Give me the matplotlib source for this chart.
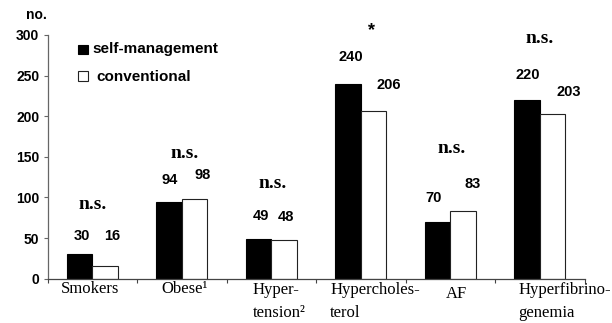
import matplotlib
matplotlib.use('Agg')
from matplotlib import pyplot as plt
from matplotlib.patches import Rectangle
import numpy as np

# risk factor counts per group
categories = ['Smokers', 'Obese¹', 'Hyper-\ntension²', 'Hypercholes-\nterol', 'AF',
              'Hyperfibrino-\ngenemia']
self_mgmt = [30, 94, 49, 240, 70, 220]
conventional = [16, 98, 48, 206, 83, 203]
signif = ['n.s.', 'n.s.', 'n.s.', '*', 'n.s.', 'n.s.']
yticks = [0, 50, 100, 150, 200, 250, 300]

# where the annotations sit (x offset from group centre, y in data units)
lab_dx_a = [-0.12, -0.137, -0.12, -0.115, -0.184, -0.134]
lab_y_a = [53, 122, 77, 273, 99, 251]
lab_dx_b = [0.223, 0.228, 0.16, 0.313, 0.245, 0.32]
lab_y_b = [52, 128, 76, 238, 117, 230]
sig_dx = [0.0, 0.03, 0.01, 0.117, 0.02, 0.0]
sig_y = [91, 154, 117, 306, 160, 296]
cat_dx = [-0.35, -0.23, -0.21, -0.34, -0.05, -0.24]
cat_dy = [0, 0, 0, 0, 5, 0]   # extra drop in pixels

sans = 'Liberation Sans'
serif = 'Liberation Serif'

fig = plt.figure(figsize=(6.12, 3.23), dpi=100, facecolor='white')
ax_h = 243.7
ax = fig.add_axes([47.5 / 612, 44.3 / 323, 537 / 612, ax_h / 323])

x = np.arange(len(categories))
w = 0.285
ax.bar(x - w / 2, self_mgmt, w, color='black', edgecolor='black', linewidth=0.8)
ax.bar(x + w / 2, conventional, w, color='white', edgecolor='#222222', linewidth=0.8)

ax.set_xlim(-0.5, len(categories) - 0.5)
ax.set_ylim(0, 300)

for side in ['top', 'right']:
    ax.spines[side].set_visible(False)
ax.spines['left'].set_color('#666666')
ax.spines['bottom'].set_color('#444444')
ax.spines['left'].set_linewidth(0.9)
ax.spines['bottom'].set_linewidth(0.9)

ax.set_yticks(yticks)
ax.set_yticklabels([str(v) for v in yticks], fontfamily=sans, fontweight='bold', fontsize=10)
ax.tick_params(axis='y', length=3, width=0.8, color='#666666', pad=3)
ax.set_xticks([])
ax.set_xticks(np.arange(-0.5, len(categories)), minor=True)
ax.tick_params(axis='x', which='minor', length=3, width=0.8, color='#444444')

# category names below the axis; baseline of the last line is used for alignment
line_gap = 23.4
for i, name in enumerate(categories):
    nlines = name.count('\n') + 1
    drop = 14.6 + cat_dy[i] + (nlines - 1) * line_gap
    ax.text(i + cat_dx[i], -drop / ax_h, name,
            transform=ax.get_xaxis_transform(), ha='left', va='baseline',
            fontfamily=serif, fontsize=12, linespacing=1.55, clip_on=False)

# numbers and significance marks
for i in range(len(categories)):
    ax.text(i + lab_dx_a[i], lab_y_a[i], str(self_mgmt[i]), ha='center', va='center',
            fontfamily=sans, fontweight='bold', fontsize=10.5, clip_on=False)
    ax.text(i + lab_dx_b[i], lab_y_b[i], str(conventional[i]), ha='center', va='center',
            fontfamily=sans, fontweight='bold', fontsize=10.5, clip_on=False)
    if signif[i] == '*':
        ax.text(i + sig_dx[i], sig_y[i], signif[i], ha='center', va='center',
                fontfamily=sans, fontweight='bold', fontsize=13, clip_on=False)
    else:
        ax.text(i + sig_dx[i], sig_y[i], signif[i], ha='center', va='center',
                fontfamily=serif, fontweight='bold', fontsize=14, clip_on=False)

fig.text(26 / 612, 1 - 15 / 323, 'no.', ha='left', va='center',
         fontfamily=sans, fontweight='bold', fontsize=10)

# legend drawn by hand
fig.patches.append(Rectangle((77.7 / 612, 1 - 54.3 / 323), 10.6 / 612, 9.6 / 323,
                             transform=fig.transFigure, facecolor='black',
                             edgecolor='black', linewidth=0.8))
fig.patches.append(Rectangle((77.7 / 612, 1 - 81 / 323), 10.6 / 612, 9.6 / 323,
                             transform=fig.transFigure, facecolor='white',
                             edgecolor='#222222', linewidth=0.8))
fig.text(92.7 / 612, 1 - 49 / 323, 'self-management', ha='left', va='center',
         fontfamily=sans, fontweight='bold', fontsize=11)
fig.text(96.7 / 612, 1 - 76.7 / 323, 'conventional', ha='left', va='center',
         fontfamily=sans, fontweight='bold', fontsize=11)

plt.savefig('out.png', dpi=100, facecolor='white')
plt.close()
